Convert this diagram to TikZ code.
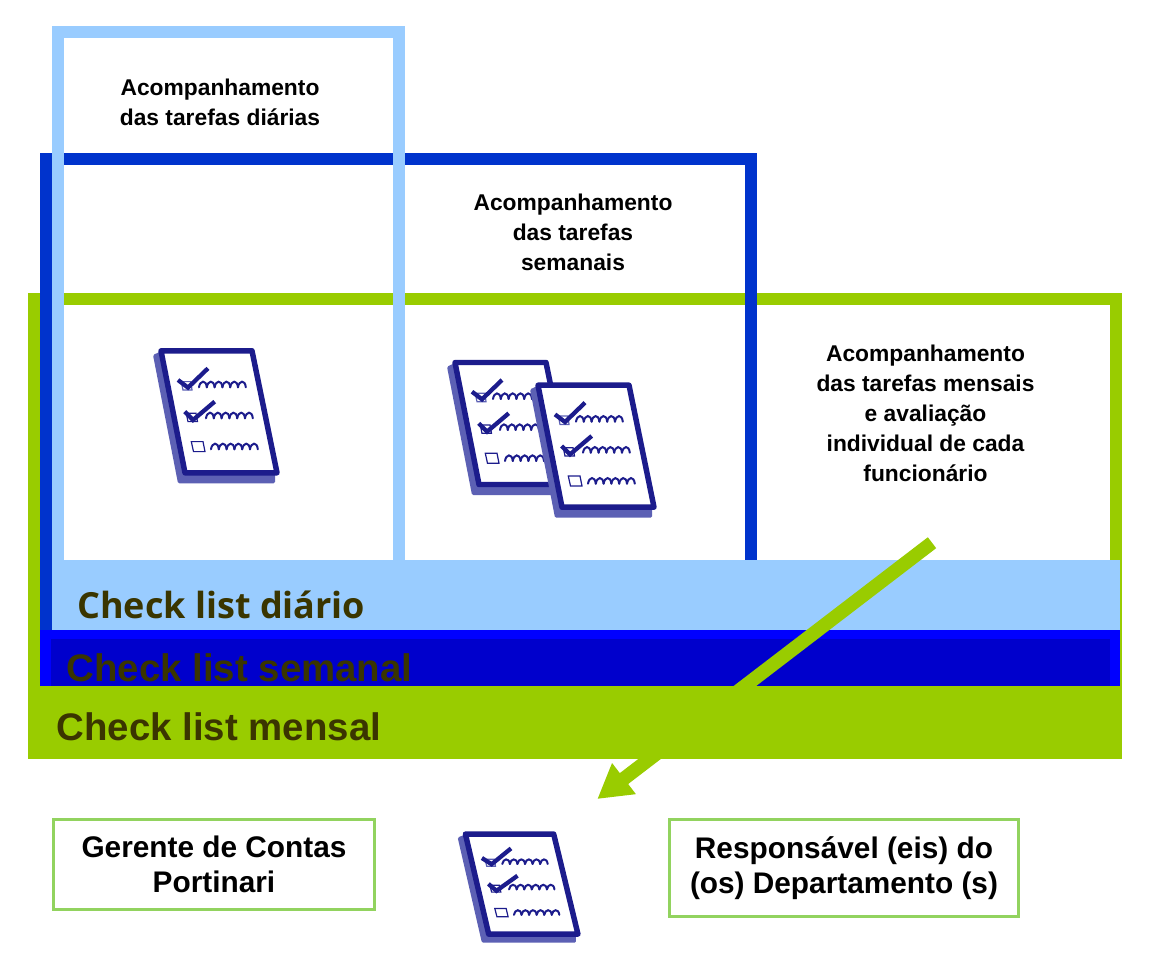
\documentclass[tikz,border=0pt]{standalone}
\usepackage{fontspec}
\setmainfont{Liberation Sans}
\newfontfamily\barfont[BoldFont={Open Sans Bold}]{Open Sans}
\usetikzlibrary{arrows.meta}
\definecolor{lightframe}{HTML}{99CCFF}
\definecolor{darkframe}{HTML}{0033CC}
\definecolor{greenframe}{HTML}{99CC00}
\definecolor{barblue}{HTML}{0000FF}
\definecolor{barinner}{HTML}{0000CC}
\definecolor{bartext}{HTML}{3A3500}
\definecolor{boxline}{HTML}{92D35F}
\definecolor{iconink}{HTML}{1C1C8C}
\definecolor{iconshade}{HTML}{5C60B4}
\newcommand{\squig}[2]{\foreach \k in {0,...,5}{\draw[iconthin,shift={({#1+\k*7.8},#2)}] (0,0) .. controls (1,-7) and (7,-8) .. (7.8,0);}}
\tikzset{
  frameline/.style={line width=9pt,line join=miter},
  small label/.style={font=\bfseries\fontsize{17.1}{22.5}\selectfont,align=center,inner sep=0pt,text=black},
  bar label/.style={font=\bfseries\fontsize{28.8}{30}\selectfont,anchor=base west,inner sep=0pt,text=bartext},
  name box/.style={draw=boxline,line width=2.4pt,fill=white,font=\bfseries\fontsize{22.35}{26.25}\selectfont,align=center,inner sep=0pt},
  iconbold/.style={draw=iconink,line width=3.2pt,line join=miter},
  iconthin/.style={draw=iconink,line width=1.5pt,line cap=round},
  iconbox/.style={draw=iconink,line width=.9pt},
  checklist/.pic={
    \fill[iconshade,rounded corners=1pt] (-5,6.7) -- (20,135) -- (117,135) -- (117,120) -- (27,120) -- (3,3) -- cycle;
    \draw[draw=iconink,fill=white,line width=4.1pt,line join=round] (3,2.5) -- (94,2.5) -- (119,124.5) -- (27,124.5) -- cycle;
    \draw[iconbox,draw=iconshade] (23.3,33.3) -- (33,33.3) -- (34,41.7) -- (25,41.7) -- cycle;
    \draw[iconbold] (20,31.7) -- (30,39.3) -- (50,20);
    \squig{41}{39}
    \draw[iconbox] (28.3,65) -- (38,65) -- (39.5,73.3) -- (30,73.3) -- cycle;
    \draw[iconbold] (26.7,63.3) -- (35,71.7) -- (56.7,53.3);
    \squig{48}{70}
    \draw[iconbox] (33.3,93.3) -- (45,93.3) -- (47,103.3) -- (35.5,103.3) -- cycle;
    \squig{53}{101}
  }
}
\begin{document}
\begin{tikzpicture}[x=0.75pt,y=-0.75pt]
\useasboundingbox (0,0) rectangle (1149,954);
\fill[white] (0,0) rectangle (1149,954);
% frames
\draw[frameline,draw=greenframe] (34,700) |- (1116,298.75) -- (1116,698);
\draw[frameline,draw=darkframe] (45.75,640) |- (751,159) -- (751,640);
\draw[frameline,draw=lightframe] (57.5,565) |- (399,32) -- (399,565);
% bars
\fill[lightframe] (51.5,560) rectangle (1120,630);
\fill[barblue] (40,629.5) rectangle (1120,686);
\fill[barinner] (51,639) rectangle (1110,686);
\node[bar label,font=\barfont\bfseries\fontsize{27}{30}\selectfont] (daily) at (77,618) {Check list diário};
\node[bar label] (weekly) at (66.5,681) {Check list semanal};
% arrow
\coordinate (arrowstart) at (932,542.7);
\coordinate (arrowend) at (597.3,799);
\draw[draw=greenframe,line width=10.3pt,-{Triangle[length=25.2pt,width=27.5pt]}] (arrowstart) -- (arrowend);
\fill[greenframe] (28,686) rectangle (1121.5,759);
\node[bar label] (monthly) at (56.5,740) {Check list mensal};
% labels
\node[small label] (t1) at (220,102) {Acompanhamento\\das tarefas diárias};
\node[small label] (t2) at (573,232) {Acompanhamento\\das tarefas\\semanais};
\node[small label] (t3) at (925.5,413.5) {Acompanhamento\\das tarefas mensais\\e avaliação\\individual de cada\\funcionário};
% icons
\pic at (158,348.3) {checklist};
\pic at (452,360) {checklist};
\pic at (535,382.7) {checklist};
\pic[xscale=.97,yscale=.82] at (462.5,832) {checklist};
% boxes
\node[name box,minimum width=241pt,minimum height=67pt] (gerente) at (214,864.5) {Gerente de Contas\\Portinari};
\node[name box,minimum width=261.6pt,minimum height=72.6pt] (resp) at (844,868) {Responsável (eis) do\\(os) Departamento (s)};
\end{tikzpicture}
\end{document}
